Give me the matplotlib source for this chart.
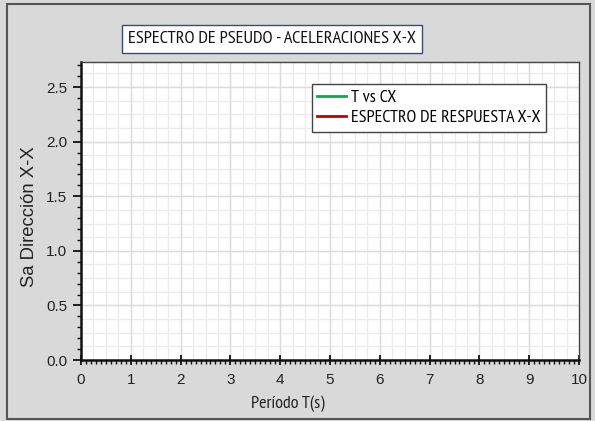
import matplotlib
matplotlib.use("Agg")
import matplotlib.pyplot as plt
import matplotlib.patches as mpatches
from matplotlib.ticker import MultipleLocator, FormatStrFormatter
import numpy as np

# Data (series are empty in the reference chart)
periodo_t = []
sa_cx = []
periodo_esp = []
sa_esp = []

title = "ESPECTRO DE PSEUDO - ACELERACIONES X-X"
xlabel = "Período T(s)"
ylabel = "Sa Dirección X-X"
label_cx = "T vs CX"
label_esp = "ESPECTRO DE RESPUESTA X-X"

narrow = ['PT Sans Narrow', 'Roboto Condensed', 'DejaVu Sans']
regular = ['Liberation Sans', 'DejaVu Sans']

W, H = 595, 421
fig = plt.figure(figsize=(W / 100, H / 100), dpi=100)
fig.patch.set_facecolor('#d9d9d9')

# outer frame
fig.patches.append(mpatches.Rectangle((7 / W, 1 - 419 / H), (590 - 7) / W, (419 - 4) / H,
                                      transform=fig.transFigure, fill=False,
                                      edgecolor='#555555', lw=1.5))

left, right, top, bottom = 81, 579, 62, 360
ax = fig.add_axes([left / W, 1 - bottom / H, (right - left) / W, (bottom - top) / H])
ax.set_facecolor('white')

ax.plot(periodo_t, sa_cx, color='#00b050', lw=2, label=label_cx)
ax.plot(periodo_esp, sa_esp, color='#c00000', lw=2, label=label_esp)

ax.set_xlim(0, 10)
ax.set_ylim(0, 2.73)

ax.xaxis.set_major_locator(MultipleLocator(1))
ax.yaxis.set_major_locator(MultipleLocator(0.5))
ax.xaxis.set_minor_locator(MultipleLocator(0.1))
ax.yaxis.set_minor_locator(MultipleLocator(0.1))
ax.yaxis.set_major_formatter(FormatStrFormatter('%.1f'))

# grid lines
for gx in np.arange(0.25, 10, 0.25):
    ax.axvline(gx, color='#ebebeb', lw=0.9, zorder=0)
for gy in np.arange(0.125, 2.73, 0.125):
    ax.axhline(gy, color='#ebebeb', lw=0.9, zorder=0)
for gx in np.arange(1, 10, 1):
    ax.axvline(gx, color='#dcdcdc', lw=1.0, zorder=0)
for gy in np.arange(0.5, 2.73, 0.5):
    ax.axhline(gy, color='#dcdcdc', lw=1.0, zorder=0)

for s in ['left', 'bottom']:
    ax.spines[s].set_linewidth(1.8)
    ax.spines[s].set_color('#111111')
for s in ['top', 'right']:
    ax.spines[s].set_linewidth(1.0)
    ax.spines[s].set_color('#444444')

ax.tick_params(axis='x', which='major', direction='inout', length=7, width=1.3, colors='#111111', pad=6)
ax.tick_params(axis='x', which='minor', direction='out', length=3, width=1.0, colors='#111111')
ax.tick_params(axis='y', which='major', direction='out', length=6, width=1.3, colors='#111111', pad=4)
ax.tick_params(axis='y', which='minor', direction='out', length=3, width=1.0, colors='#111111')
for lab in ax.get_xticklabels() + ax.get_yticklabels():
    lab.set_fontfamily(regular)
    lab.set_fontsize(11)
    lab.set_color('#222222')

ax.set_xlabel(xlabel, fontfamily=narrow, fontsize=13, color='#222222')
ax.xaxis.set_label_coords((288 - left) / (right - left), -(404 - bottom) / (bottom - top), transform=ax.transAxes)
ax.xaxis.label.set_va('center')
ax.set_ylabel(ylabel, fontfamily=regular, fontsize=13.3, color='#222222')
ax.yaxis.set_label_coords(-(left - 29) / (right - left), (bottom - 217) / (bottom - top), transform=ax.transAxes)
ax.yaxis.label.set_va('center')

fig.text(272 / W, 1 - 39 / H, title, ha='center', va='center', fontfamily=narrow,
         fontsize=13.2, color='#111111',
         bbox=dict(boxstyle='square,pad=0.34', facecolor='white', edgecolor='#3a4a7a', lw=1.0))

leg = ax.legend(loc='upper left', bbox_to_anchor=((312 - left) / (right - left), (bottom - 84) / (bottom - top)),
                prop={'family': narrow, 'size': 13}, frameon=True, fancybox=False,
                edgecolor='#444444', framealpha=1, borderpad=0.3, handlelength=1.6,
                handletextpad=0.25, labelspacing=0.2, borderaxespad=0)
leg.get_frame().set_linewidth(1.0)

fig.savefig('out.png', dpi=100, facecolor=fig.get_facecolor())
